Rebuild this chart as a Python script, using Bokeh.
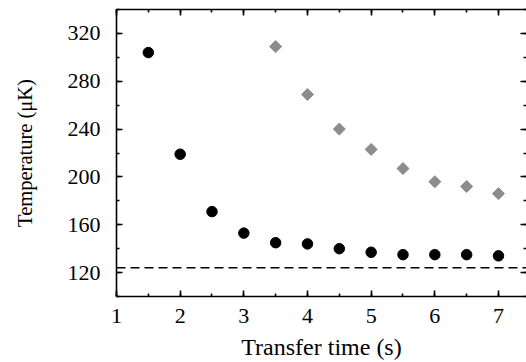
import math
from bokeh.plotting import figure
from bokeh.models import (LinearAxis, SingleIntervalTicker, Span, ColumnDataSource,
                          CustomJSTickFormatter)
from bokeh.embed import file_html
from bokeh.resources import INLINE

# Data
transfer_black = [1.5, 2.0, 2.5, 3.0, 3.5, 4.0, 4.5, 5.0, 5.5, 6.0, 6.5, 7.0]
temp_black = [304, 219, 171, 153, 145, 144, 140, 137, 135, 135, 135, 134]
transfer_gray = [3.5, 4.0, 4.5, 5.0, 5.5, 6.0, 6.5, 7.0]
temp_gray = [309, 269, 240, 223, 207, 196, 192, 186]
temp_limit = 124

x_label = "Transfer time (s)"
y_label = "Temperature (μK)"

FONT = "Liberation Serif"
LW = 1.6

p = figure(width=526, height=362, x_range=(1, 7.44), y_range=(100, 340),
           output_backend="svg", toolbar_location=None,
           min_border_left=116, min_border_right=0, min_border_top=9,
           min_border_bottom=65, x_axis_label=x_label, y_axis_label=y_label)
p.outline_line_color = None
p.xgrid.visible = False
p.ygrid.visible = False
p.background_fill_color = "white"
p.border_fill_color = "white"


def style_axis(ax):
    ax.axis_line_width = LW
    ax.axis_line_color = "black"
    ax.major_tick_in = 6
    ax.major_tick_out = 0
    ax.minor_tick_in = 3
    ax.minor_tick_out = 0
    ax.major_tick_line_width = LW
    ax.minor_tick_line_width = LW
    ax.major_tick_line_color = "black"
    ax.minor_tick_line_color = "black"
    ax.major_label_text_font = FONT
    ax.major_label_text_font_size = "22px"
    ax.major_label_text_color = "black"
    ax.axis_label_text_font = FONT
    ax.axis_label_text_font_style = "normal"
    ax.axis_label_text_color = "black"


p.xaxis.ticker = SingleIntervalTicker(interval=1, num_minor_ticks=2)
p.yaxis.ticker = SingleIntervalTicker(interval=40, num_minor_ticks=2)
for ax in p.xaxis + p.yaxis:
    style_axis(ax)
p.xaxis.axis_label_text_font_size = "24px"
p.yaxis.axis_label_text_font_size = "20.5px"
p.xaxis.major_label_standoff = 12
p.xaxis.axis_label_standoff = 8
p.yaxis.major_label_standoff = 16
p.yaxis.axis_label_standoff = 29

blank = CustomJSTickFormatter(code="return ''")

top = LinearAxis(ticker=SingleIntervalTicker(interval=1, num_minor_ticks=2),
                 formatter=blank)
style_axis(top)
top.major_label_standoff = 0
p.add_layout(top, "above")

right = LinearAxis(ticker=SingleIntervalTicker(interval=40, num_minor_ticks=2),
                   formatter=blank)
style_axis(right)
right.major_label_standoff = 0
right.axis_line_color = None
p.add_layout(right, "right")

p.add_layout(Span(location=temp_limit, dimension="width", line_color="black",
                  line_width=1.5, line_dash="9 5"))

src_b = ColumnDataSource(dict(x=transfer_black, y=temp_black))
src_g = ColumnDataSource(dict(x=transfer_gray, y=temp_gray))
p.scatter("x", "y", source=src_g, marker="square", size=8.5, angle=math.pi / 4,
          fill_color="#8c8c8c", line_color="#8c8c8c")
p.scatter("x", "y", source=src_b, marker="circle", size=10.5,
          fill_color="black", line_color="black")

open("out.html", "w").write(file_html(p, INLINE))
